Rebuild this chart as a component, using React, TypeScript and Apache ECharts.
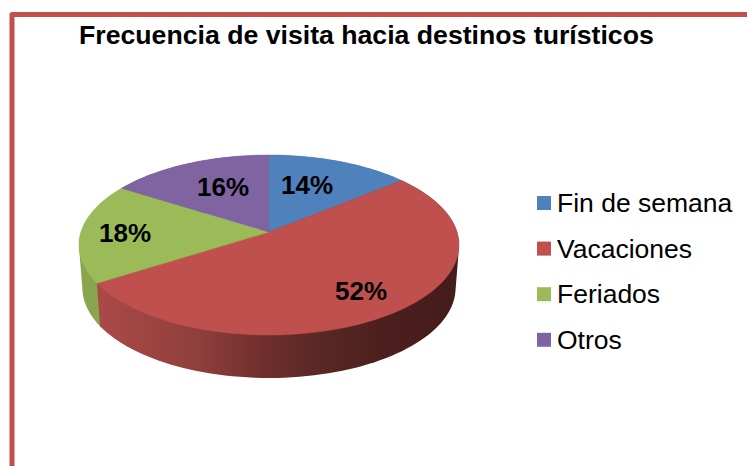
import React, { useEffect, useRef } from "react";
import * as echarts from "echarts";

const titleText = "Frecuencia de visita hacia destinos turísticos";
const categories = ["Fin de semana", "Vacaciones", "Feriados", "Otros"];
const values = [14, 52, 18, 16];
const labels = ["14%", "52%", "18%", "16%"];

const FONT = '"Liberation Sans", Arial, sans-serif';
const topColors = ["#4f81bd", "#c0504d", "#9bbb59", "#8064a2"];
const labelCenters = [[307, 185], [361, 291], [125, 233], [223, 187]];
const wallZ = [1, 4, 3, 2];

// perspective model of the tilted disc
const AX = 269, AY = 232, BX = 188, BY = 88.1, K = 0.1444;
const WALL_SCALE = 0.982, WALL_DROP = 43;

type P = [number, number];
function project(deg: number, lower: boolean): P {
  const t = (deg * Math.PI) / 180;
  const u = Math.sin(t), v = Math.cos(t);
  const d = 1 + K * v;
  const x = (BX * u) / d, y = (-BY * v) / d;
  return lower ? [AX + x * WALL_SCALE, AY + y + WALL_DROP] : [AX + x, AY + y];
}
function arc(a: number, b: number, lower: boolean): P[] {
  const out: P[] = [];
  const n = Math.max(4, Math.ceil((b - a) / 2));
  for (let i = 0; i <= n; i++) out.push(project(a + ((b - a) * i) / n, lower));
  return out;
}
function hull(pts: P[]): P[] {
  const s = [...pts].sort((p, q) => p[0] - q[0] || p[1] - q[1]);
  const cross = (o: P, a: P, b: P) => (a[0] - o[0]) * (b[1] - o[1]) - (a[1] - o[1]) * (b[0] - o[0]);
  const half = (list: P[]) => {
    const r: P[] = [];
    for (const p of list) {
      while (r.length > 1 && cross(r[r.length - 2], r[r.length - 1], p) <= 0) r.pop();
      r.push(p);
    }
    r.pop();
    return r;
  };
  return [...half(s), ...half([...s].reverse())];
}
function wallFill(i: number) {
  if (i === 1) {
    return new echarts.graphic.LinearGradient(98, 0, 459, 0, [
      { offset: 0, color: "#ab4947" },
      { offset: 0.28, color: "#8f3f3d" },
      { offset: 0.44, color: "#73302e" },
      { offset: 0.6, color: "#5a2826" },
      { offset: 0.8, color: "#4b1f1d" },
      { offset: 1, color: "#451c1a" },
    ], true);
  }
  return ["#3b5b85", "#8f3f3d", "#8aa54f", "#5c4876"][i];
}

const total = values.reduce((a, b) => a + b, 0);
const starts = values.map((_, i) => (values.slice(0, i).reduce((a, b) => a + b, 0) / total) * 360);

export default function App() {
  const ref = useRef<HTMLDivElement>(null);
  useEffect(() => {
    document.body.style.margin = "0";
    const chart = echarts.init(ref.current!, null, { renderer: "svg" });
    chart.setOption({
      animation: false,
      backgroundColor: "#ffffff",
      title: {
        text: titleText,
        left: 79,
        top: 21,
        padding: 0,
        textStyle: { fontFamily: FONT, fontSize: 26.67, fontWeight: "bold", color: "#000000" },
      },
      legend: {
        orient: "vertical",
        left: 537,
        top: 189.5,
        padding: 0,
        itemWidth: 14,
        itemHeight: 14,
        itemGap: 18.6,
        icon: "rect",
        data: categories,
        textStyle: { fontFamily: FONT, fontSize: 26.5, lineHeight: 26, color: "#000000", padding: [0, 0, 0, 1] },
      },
      graphic: [
        {
          type: "polyline",
          shape: { points: [[12, 466], [12, 14.5], [747, 14.5]] },
          style: { fill: "none", stroke: "#c0504d", lineWidth: 5, lineJoin: "round" },
          silent: true,
        },
      ],
      series: categories.map((name, i) => ({
        type: "custom",
        name,
        coordinateSystem: "none",
        itemStyle: { color: topColors[i] },
        data: [values[i]],
        renderItem: () => {
          const a = starts[i];
          const b = a + (values[i] / total) * 360;
          const top = arc(a, b, false);
          const bottom = arc(a, b, true);
          return {
            type: "group",
            children: [
              {
                type: "polygon",
                z2: wallZ[i],
                shape: { points: hull([...top, ...bottom]) },
                style: { fill: wallFill(i) },
              },
              {
                type: "polygon",
                z2: 10,
                shape: { points: [[AX, AY], ...top] },
                style: { fill: topColors[i], stroke: topColors[i], lineWidth: 0.5 },
              },
              {
                type: "text",
                z2: 20,
                x: labelCenters[i][0],
                y: labelCenters[i][1],
                style: {
                  text: labels[i],
                  fontFamily: FONT,
                  fontSize: 26,
                  fontWeight: "bold",
                  fill: "#000000",
                  align: "center",
                  verticalAlign: "middle",
                },
              },
            ],
          };
        },
      })),
    });
    return () => chart.dispose();
  }, []);
  return <div ref={ref} style={{ width: 747, height: 466 }} />;
}
